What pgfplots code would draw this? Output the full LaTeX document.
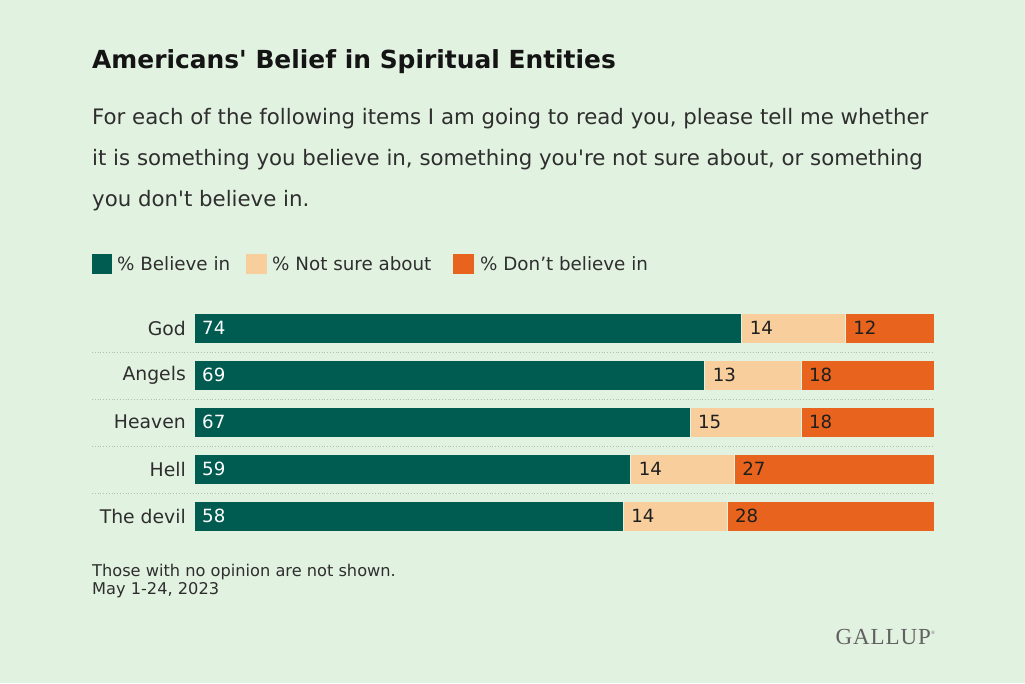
\documentclass[border=0pt]{standalone}
\usepackage{pgfplots}
\pgfplotsset{compat=1.18}
\usepackage{fontspec}
\setmainfont{DejaVu Sans}[Ligatures=TeXOff]
\newfontfamily\logofont{Liberation Serif}[LetterSpace=4]
\definecolor{bg}{HTML}{E2F2E1}
\definecolor{dgreen}{HTML}{005C50}
\definecolor{lorange}{HTML}{F8CF9C}
\definecolor{orange}{HTML}{E8641E}
\definecolor{txt}{HTML}{2E2E2E}
\definecolor{sep}{HTML}{B0C0B0}
\pgfplotstableread{
x y lab
74 0 14
88 0 12
69 1 13
82 1 18
67 2 15
82 2 18
59 3 14
73 3 27
58 4 14
72 4 28
}\labels
\begin{document}
\begin{tikzpicture}[x=1pt,y=1pt]
\fill[bg] (0,0) rectangle (1025,-683);
% title
\node[anchor=base west, inner sep=0, text=black!92, font=\fontsize{24.9}{30}\selectfont\bfseries] at (92,-68) {Americans' Belief in Spiritual Entities};
\node[anchor=base west, inner sep=0, text=txt, font=\fontsize{21.3}{24}\selectfont] at (92,-124) {For each of the following items I am going to read you, please tell me whether};
\node[anchor=base west, inner sep=0, text=txt, font=\fontsize{21.3}{24}\selectfont] at (92,-165) {it is something you believe in, something you're not sure about, or something};
\node[anchor=base west, inner sep=0, text=txt, font=\fontsize{21.3}{24}\selectfont] at (92,-206) {you don't believe in.};
% legend
\fill[dgreen] (92,-254) rectangle (112,-274);
\node[anchor=base west, inner sep=0, text=txt, font=\fontsize{18.3}{20}\selectfont] at (117,-270) {\% Believe in};
\fill[lorange] (246,-254) rectangle (267,-274);
\node[anchor=base west, inner sep=0, text=txt, font=\fontsize{18.3}{20}\selectfont] at (272,-270) {\% Not sure about};
\fill[orange] (453,-254) rectangle (474,-274);
\node[anchor=base west, inner sep=0, text=txt, font=\fontsize{18.3}{20}\selectfont] at (480,-270) {\% Don’t believe in};
% separators
\foreach \yy in {352,399,446,493} {\draw[sep, line width=0.8pt, dotted] (92,-\yy) -- (934,-\yy);}
\begin{axis}[
  at={(194pt,-539.5pt)}, anchor=south west,
  scale only axis, width=740pt, height=235pt,
  xmin=0, xmax=100, ymin=-0.5, ymax=4.5, y dir=reverse,
  xbar stacked, bar width=30pt,
  axis line style={draw=none},
  xtick=\empty, ytick={0,1,2,3,4},
  yticklabels={God,Angels,Heaven,Hell,The devil},
  major tick length=0pt,
  yticklabel style={font=\fontsize{18.8}{20}\selectfont, text=txt, inner sep=0pt, xshift=-8pt},
  clip=false,
]
\addplot[fill=dgreen, draw=bg, line width=0.6pt] coordinates {(74,0) (69,1) (67,2) (59,3) (58,4)};
\addplot[fill=lorange, draw=bg, line width=0.6pt] coordinates {(14,0) (13,1) (15,2) (14,3) (14,4)};
\addplot[fill=orange, draw=bg, line width=0.6pt] coordinates {(12,0) (18,1) (18,2) (27,3) (28,4)};
\end{axis}
% value labels at the start of each segment
\begin{axis}[
  at={(194pt,-539.5pt)}, anchor=south west,
  scale only axis, width=740pt, height=235pt,
  xmin=0, xmax=100, ymin=-0.5, ymax=4.5, y dir=reverse,
  hide axis, clip=false,
]
\addplot[draw=none, mark=none, nodes near coords, point meta=explicit symbolic,
  every node near coord/.append style={anchor=west, inner sep=0pt, xshift=8pt, font=\fontsize{18.2}{20}\selectfont, text=black!88}]
  table[x=x, y=y, meta=lab] {\labels};
\addplot[draw=none, mark=none, nodes near coords, point meta=explicit symbolic,
  every node near coord/.append style={anchor=west, inner sep=0pt, xshift=8pt, font=\fontsize{18.2}{20}\selectfont, text=white}]
  coordinates {(0,0) [74] (0,1) [69] (0,2) [67] (0,3) [59] (0,4) [58]};
\end{axis}
% footnote
\node[anchor=base west, inner sep=0, text=txt, font=\fontsize{16.2}{18}\selectfont] at (92,-576) {Those with no opinion are not shown.};
\node[anchor=base west, inner sep=0, text=txt, font=\fontsize{16.2}{18}\selectfont] at (92,-594) {May 1-24, 2023};
\node[anchor=base east, inner sep=0, text=black!62, font=\logofont\fontsize{23}{24}\selectfont] at (935,-644) {GALLUP\raisebox{0.9ex}{\fontsize{5}{5}\selectfont\textregistered}};
\end{tikzpicture}
\end{document}
